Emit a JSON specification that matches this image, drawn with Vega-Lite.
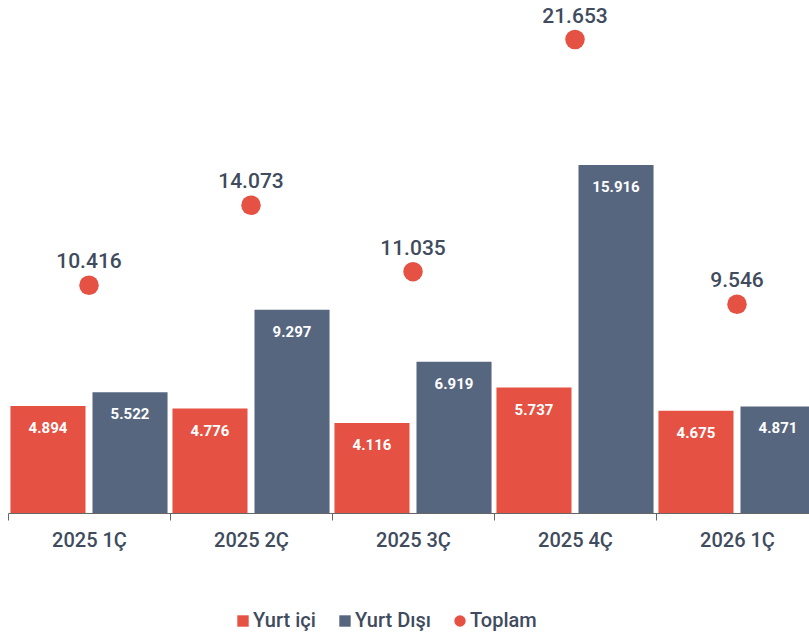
{
  "$schema": "https://vega.github.io/schema/vega-lite/v6.json",
  "width": 801,
  "height": 513,
  "autosize": {"type": "none"},
  "padding": {"left": 8, "top": 0, "right": 0, "bottom": 120},
  "background": "white",
  "config": {"view": {"stroke": null}, "font": "Roboto"},
  "data": {
    "values": [
      {"q": "2025 1Ç", "seri": "Yurt içi", "deger": 4.894},
      {"q": "2025 1Ç", "seri": "Yurt Dışı", "deger": 5.522},
      {"q": "2025 1Ç", "seri": "Toplam", "deger": 10.416},
      {"q": "2025 2Ç", "seri": "Yurt içi", "deger": 4.776},
      {"q": "2025 2Ç", "seri": "Yurt Dışı", "deger": 9.297},
      {"q": "2025 2Ç", "seri": "Toplam", "deger": 14.073},
      {"q": "2025 3Ç", "seri": "Yurt içi", "deger": 4.116},
      {"q": "2025 3Ç", "seri": "Yurt Dışı", "deger": 6.919},
      {"q": "2025 3Ç", "seri": "Toplam", "deger": 11.035},
      {"q": "2025 4Ç", "seri": "Yurt içi", "deger": 5.737},
      {"q": "2025 4Ç", "seri": "Yurt Dışı", "deger": 15.916},
      {"q": "2025 4Ç", "seri": "Toplam", "deger": 21.653},
      {"q": "2026 1Ç", "seri": "Yurt içi", "deger": 4.675},
      {"q": "2026 1Ç", "seri": "Yurt Dışı", "deger": 4.871},
      {"q": "2026 1Ç", "seri": "Toplam", "deger": 9.546}
    ]
  },
  "encoding": {
    "x": {
      "field": "q",
      "type": "nominal",
      "sort": ["2025 1Ç", "2025 2Ç", "2025 3Ç", "2025 4Ç", "2026 1Ç"],
      "scale": {"paddingInner": 0, "paddingOuter": 0, "range": [0, 810]},
      "axis": {
        "title": null,
        "labelAngle": 0,
        "tickBand": "extent",
        "domainColor": "#666666",
        "tickColor": "#666666",
        "tickSize": 7,
        "labelFontSize": 20,
        "labelFontWeight": 500,
        "labelColor": "#404b5e",
        "labelPadding": 10
      }
    },
    "y": {
      "field": "deger",
      "type": "quantitative",
      "scale": {"domain": [0, 23.46], "nice": false},
      "axis": null
    }
  },
  "layer": [
    {
      "transform": [{"filter": "datum.seri !== 'Toplam'"}],
      "mark": {"type": "bar"},
      "encoding": {
        "xOffset": {
          "field": "seri",
          "sort": ["Yurt içi", "Yurt Dışı"],
          "scale": {"paddingInner": 0.085, "paddingOuter": 0.03}
        },
        "color": {
          "field": "seri",
          "type": "nominal",
          "scale": {
            "domain": ["Yurt içi", "Yurt Dışı", "Toplam"],
            "range": ["#e55142", "#56667f", "#e55142"]
          },
          "legend": {
            "title": null,
            "orient": "none",
            "direction": "horizontal",
            "legendX": 225,
            "legendY": 611,
            "labelFontSize": 20,
            "labelFontWeight": 500,
            "labelColor": "#404b5e",
            "symbolSize": 130,
            "symbolStrokeWidth": 0,
            "columnPadding": 19,
            "labelOffset": 0
          }
        }
      }
    },
    {
      "transform": [{"filter": "datum.seri !== 'Toplam'"}],
      "mark": {"type": "text", "color": "white", "fontSize": 15, "fontWeight": "bold", "baseline": "middle", "dy": 22},
      "encoding": {
        "xOffset": {
          "field": "seri",
          "sort": ["Yurt içi", "Yurt Dışı"],
          "scale": {"paddingInner": 0.085, "paddingOuter": 0.03}
        },
        "text": {"field": "deger", "type": "quantitative", "format": ".3f"}
      }
    },
    {
      "transform": [{"filter": "datum.seri === 'Toplam'"}],
      "mark": {"type": "point", "filled": true, "opacity": 1, "size": 380},
      "encoding": {
        "color": {"field": "seri", "type": "nominal"},
        "shape": {
          "field": "seri",
          "type": "nominal",
          "scale": {
            "domain": ["Yurt içi", "Yurt Dışı", "Toplam"],
            "range": ["square", "square", "circle"]
          }
        }
      }
    },
    {
      "transform": [{"filter": "datum.seri === 'Toplam'"}],
      "mark": {"type": "text", "color": "#404b5e", "fontSize": 21, "fontWeight": 500, "baseline": "middle", "dy": -23},
      "encoding": {
        "text": {"field": "deger", "type": "quantitative", "format": ".3f"}
      }
    }
  ]
}
